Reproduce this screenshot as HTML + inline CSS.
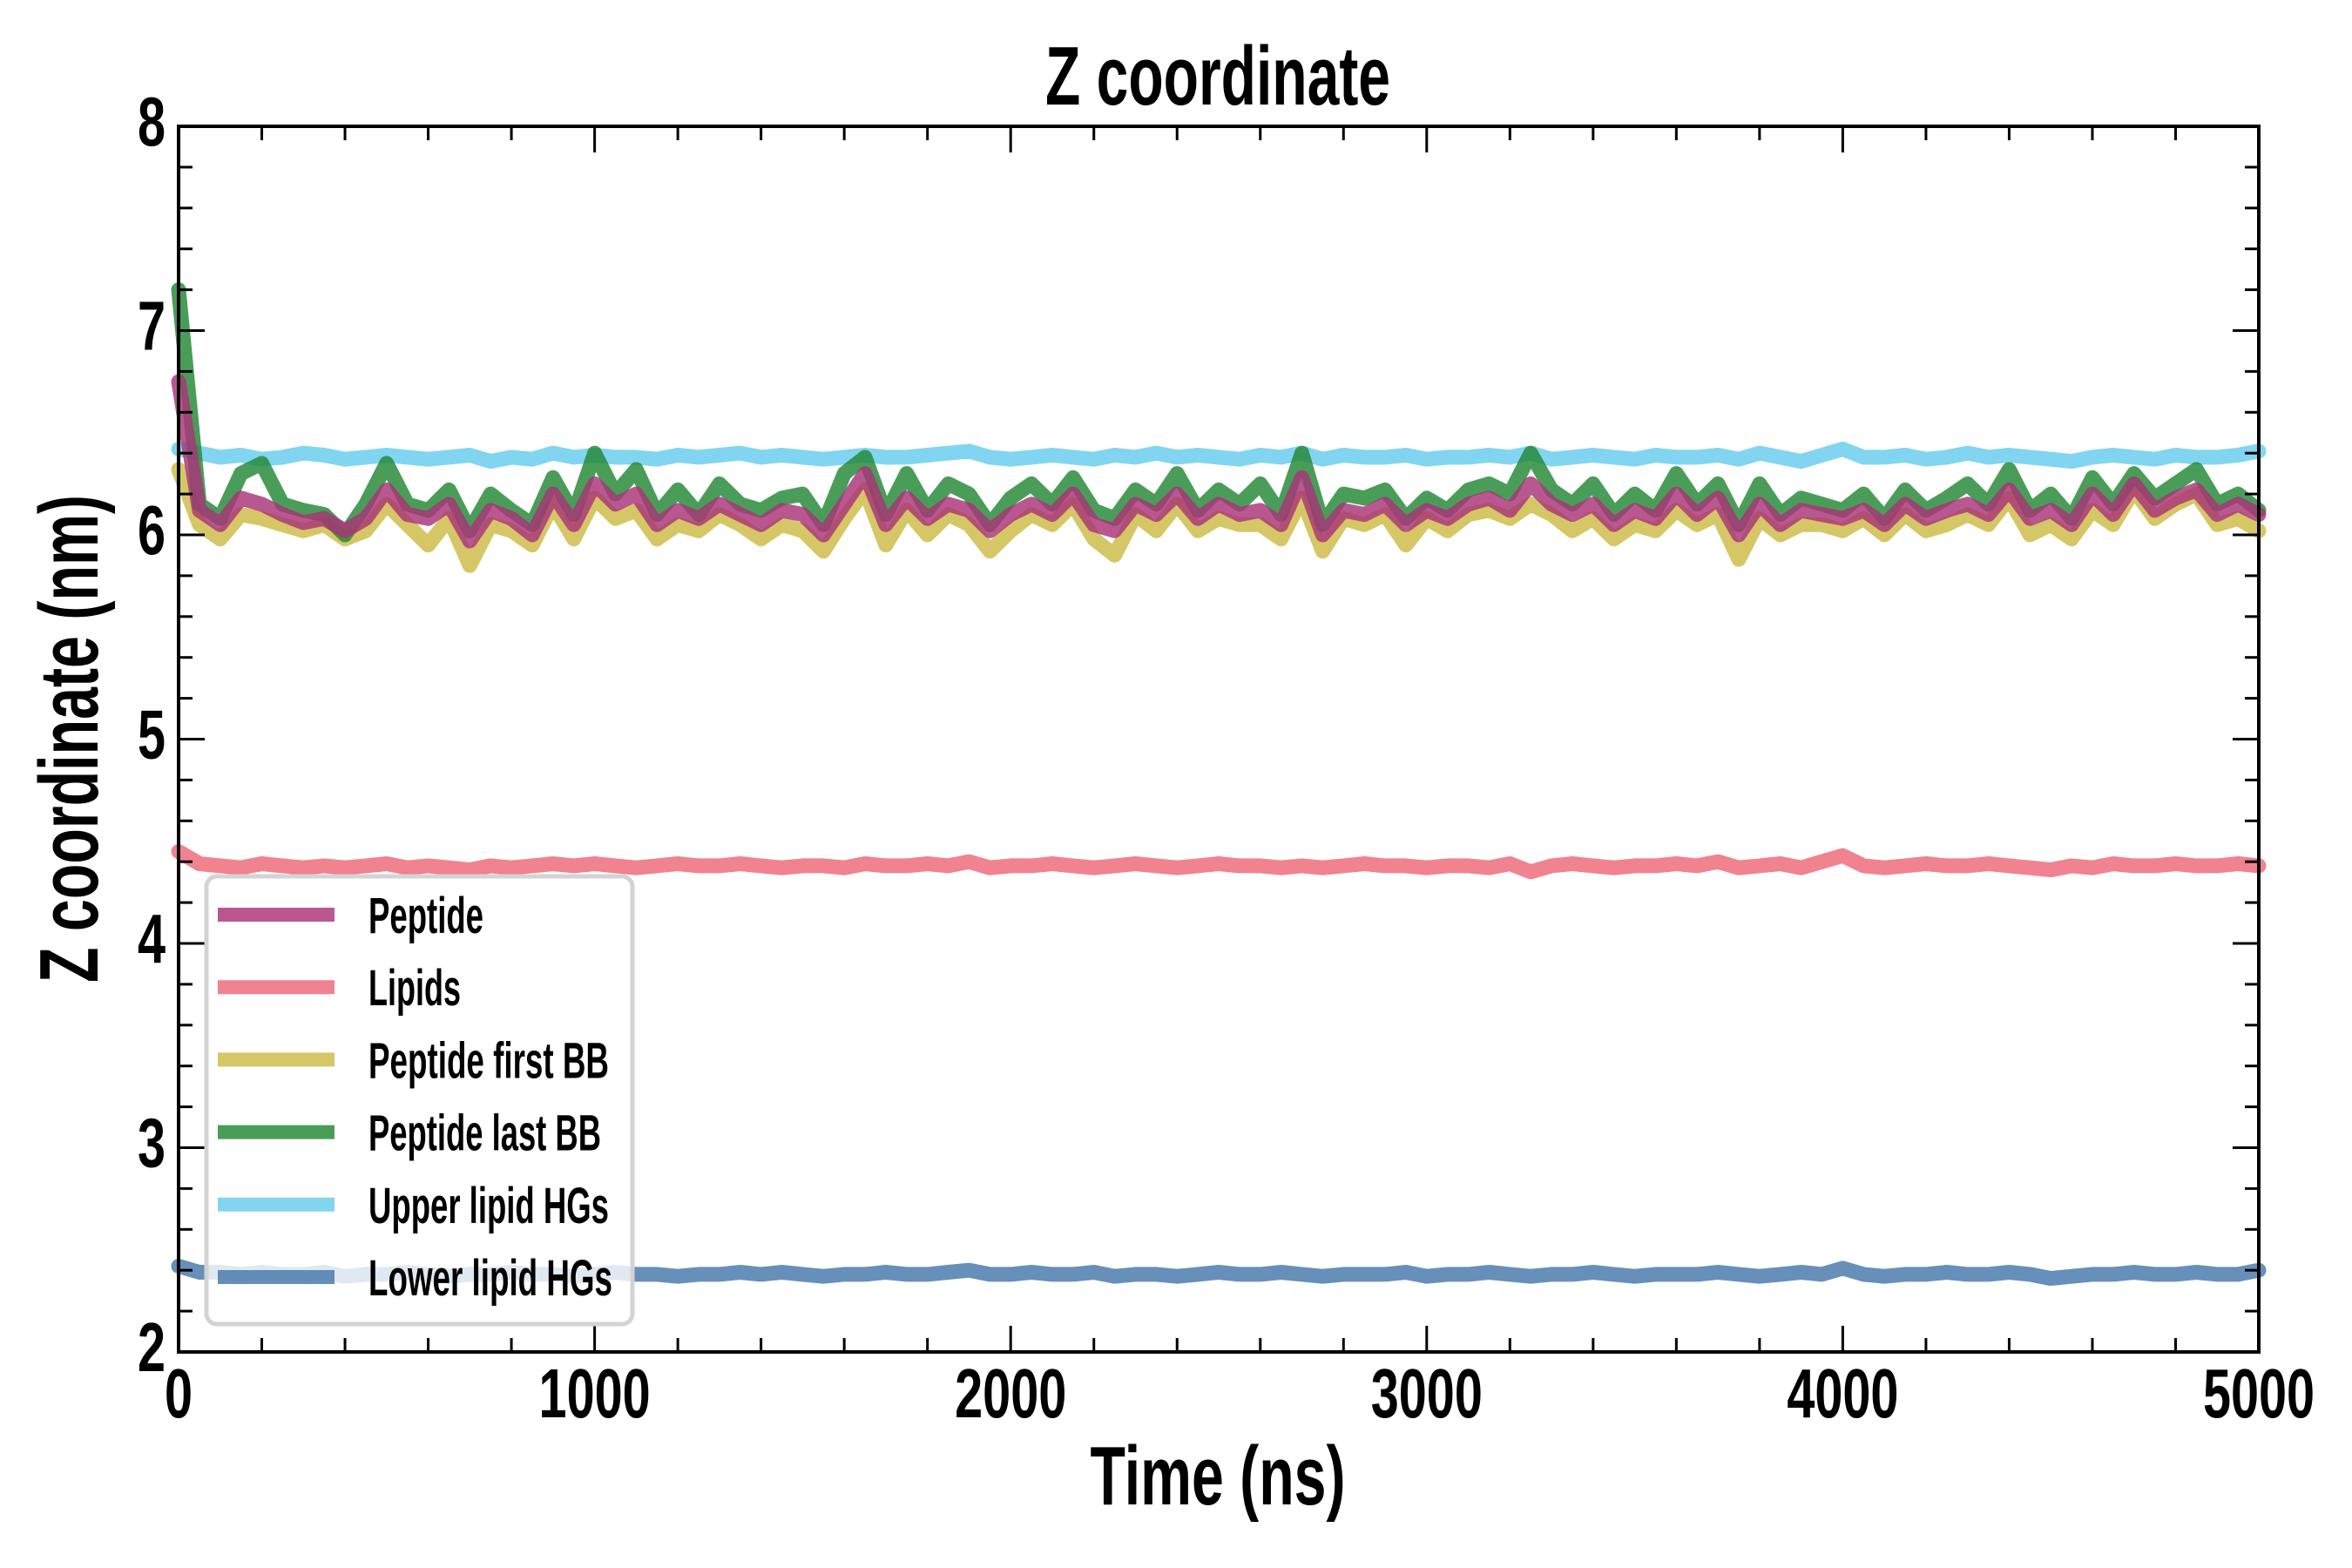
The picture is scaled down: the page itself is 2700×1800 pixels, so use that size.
<!DOCTYPE html>
<html>
<head>
<meta charset="utf-8">
<style>
html,body{margin:0;padding:0;background:#fff;}
svg{display:block;}
text{font-family:"Liberation Sans Narrow","Liberation Sans",sans-serif;font-weight:bold;fill:#000;}
</style>
</head>
<body>
<svg id="chart" width="2700" height="1800" viewBox="0 0 2700 1800" xmlns="http://www.w3.org/2000/svg">
  <rect x="0" y="0" width="2700" height="1800" fill="#fff"/>
  <g id="series"></g>
  <g id="axes"></g>
  <g id="legend"></g>
  <text x="1398" y="120" font-size="96" text-anchor="middle" textLength="396" lengthAdjust="spacingAndGlyphs">Z coordinate</text>
  <text x="1398" y="1727" font-size="96" text-anchor="middle" textLength="293" lengthAdjust="spacingAndGlyphs">Time (ns)</text>
  <text transform="translate(112,848) rotate(-90)" x="0" y="0" font-size="96" text-anchor="middle" textLength="560" lengthAdjust="spacingAndGlyphs">Z coordinate (nm)</text>
</svg>
<script>
const times = [0,50,100,150,200,250,300,350,400,450,500,550,600,650,700,750,800,850,900,950,1000,1050,1100,1150,1200,1250,1300,1350,1400,1450,1500,1550,1600,1650,1700,1750,1800,1850,1900,1950,2000,2050,2100,2150,2200,2250,2300,2350,2400,2450,2500,2550,2600,2650,2700,2750,2800,2850,2900,2950,3000,3050,3100,3150,3200,3250,3300,3350,3400,3450,3500,3550,3600,3650,3700,3750,3800,3850,3900,3950,4000,4050,4100,4150,4200,4250,4300,4350,4400,4450,4500,4550,4600,4650,4700,4750,4800,4850,4900,4950,5000];
const peptide = [6.75,6.12,6.05,6.18,6.15,6.10,6.06,6.08,6.02,6.08,6.22,6.10,6.08,6.15,5.97,6.12,6.08,6.00,6.20,6.05,6.25,6.15,6.20,6.05,6.12,6.08,6.15,6.10,6.05,6.12,6.10,6.00,6.15,6.30,6.05,6.18,6.08,6.15,6.12,6.02,6.10,6.15,6.10,6.20,6.05,6.02,6.15,6.10,6.20,6.08,6.15,6.10,6.12,6.05,6.28,6.00,6.12,6.10,6.15,6.05,6.12,6.08,6.15,6.18,6.12,6.25,6.15,6.10,6.15,6.05,6.12,6.08,6.20,6.10,6.18,6.00,6.15,6.05,6.12,6.10,6.08,6.12,6.05,6.15,6.08,6.12,6.15,6.10,6.22,6.08,6.12,6.05,6.20,6.10,6.25,6.12,6.18,6.22,6.10,6.15,6.10];
const firstBB = [6.32,6.05,5.98,6.10,6.08,6.05,6.02,6.05,5.98,6.02,6.15,6.05,5.95,6.08,5.85,6.05,6.02,5.95,6.15,5.98,6.18,6.08,6.12,5.98,6.05,6.02,6.10,6.05,5.98,6.05,6.02,5.92,6.08,6.22,5.95,6.12,6.00,6.10,6.05,5.92,6.02,6.10,6.05,6.15,5.98,5.90,6.10,6.02,6.15,6.02,6.08,6.05,6.05,5.98,6.18,5.92,6.08,6.05,6.10,5.95,6.08,6.02,6.10,6.12,6.08,6.15,6.10,6.02,6.08,5.98,6.05,6.02,6.12,6.05,6.10,5.88,6.08,6.00,6.05,6.05,6.02,6.08,6.00,6.10,6.02,6.05,6.10,6.05,6.18,6.00,6.05,5.98,6.12,6.05,6.22,6.08,6.15,6.20,6.05,6.08,6.02];
const lastBB = [7.20,6.15,6.08,6.30,6.35,6.15,6.12,6.10,6.00,6.15,6.35,6.15,6.12,6.22,6.02,6.20,6.12,6.05,6.28,6.10,6.40,6.20,6.32,6.10,6.22,6.10,6.25,6.15,6.12,6.18,6.20,6.05,6.30,6.38,6.10,6.30,6.12,6.25,6.20,6.05,6.18,6.25,6.15,6.28,6.12,6.08,6.22,6.15,6.30,6.12,6.22,6.15,6.25,6.10,6.40,6.05,6.20,6.18,6.22,6.08,6.18,6.12,6.22,6.25,6.20,6.40,6.22,6.15,6.25,6.10,6.20,6.12,6.30,6.15,6.25,6.05,6.25,6.10,6.18,6.15,6.12,6.20,6.08,6.22,6.12,6.18,6.25,6.15,6.32,6.12,6.20,6.08,6.28,6.15,6.30,6.18,6.25,6.32,6.15,6.20,6.12];
const upperHG = [6.42,6.40,6.38,6.39,6.37,6.38,6.40,6.39,6.37,6.38,6.39,6.38,6.37,6.38,6.39,6.36,6.38,6.37,6.40,6.38,6.39,6.38,6.38,6.37,6.39,6.38,6.39,6.40,6.38,6.39,6.38,6.37,6.38,6.39,6.38,6.38,6.39,6.40,6.41,6.38,6.37,6.38,6.39,6.38,6.37,6.39,6.38,6.40,6.38,6.39,6.38,6.37,6.39,6.38,6.40,6.37,6.39,6.38,6.38,6.39,6.37,6.38,6.38,6.39,6.38,6.40,6.37,6.38,6.39,6.38,6.37,6.39,6.38,6.38,6.39,6.37,6.40,6.38,6.36,6.39,6.42,6.38,6.38,6.39,6.37,6.38,6.40,6.38,6.39,6.38,6.37,6.36,6.38,6.39,6.38,6.37,6.39,6.38,6.38,6.39,6.41];
const lipids = [4.45,4.39,4.38,4.37,4.39,4.38,4.37,4.38,4.37,4.38,4.39,4.37,4.38,4.37,4.36,4.38,4.37,4.38,4.39,4.38,4.39,4.38,4.37,4.38,4.39,4.38,4.38,4.39,4.38,4.37,4.38,4.38,4.37,4.39,4.38,4.38,4.39,4.38,4.40,4.37,4.38,4.38,4.39,4.38,4.37,4.38,4.39,4.38,4.37,4.38,4.39,4.38,4.38,4.37,4.38,4.37,4.38,4.39,4.38,4.38,4.37,4.38,4.38,4.37,4.39,4.35,4.38,4.39,4.38,4.37,4.38,4.38,4.39,4.38,4.40,4.37,4.38,4.39,4.37,4.40,4.43,4.38,4.37,4.38,4.39,4.38,4.38,4.39,4.38,4.37,4.36,4.38,4.37,4.39,4.38,4.38,4.39,4.38,4.38,4.39,4.38];
const lowerHG = [2.42,2.39,2.39,2.38,2.39,2.38,2.38,2.39,2.37,2.38,2.38,2.39,2.38,2.37,2.38,2.38,2.39,2.38,2.38,2.37,2.38,2.39,2.38,2.38,2.37,2.38,2.38,2.39,2.38,2.39,2.38,2.37,2.38,2.38,2.39,2.38,2.38,2.39,2.40,2.38,2.38,2.39,2.38,2.38,2.39,2.37,2.38,2.38,2.37,2.38,2.39,2.38,2.38,2.39,2.38,2.37,2.38,2.38,2.38,2.39,2.37,2.38,2.38,2.39,2.38,2.37,2.38,2.38,2.39,2.38,2.37,2.38,2.38,2.38,2.39,2.38,2.37,2.38,2.39,2.38,2.41,2.38,2.37,2.38,2.38,2.39,2.38,2.38,2.39,2.38,2.36,2.37,2.38,2.38,2.39,2.38,2.38,2.39,2.38,2.38,2.40];
const seriesNames = ["Peptide","Lipids","Peptide first BB","Peptide last BB","Upper lipid HGs","Lower lipid HGs"];
const xTickLabels = ["0","1000","2000","3000","4000","5000"];
const yTickLabels = ["2","3","4","5","6","7","8"];

const NS = "http://www.w3.org/2000/svg";
const L = 205, R = 2593, T = 145, B = 1552;
const xMin = 0, xMax = 5000, yMin = 2, yMax = 8;
function xs(v){ return L + (v - xMin) / (xMax - xMin) * (R - L); }
function ys(v){ return B - (v - yMin) / (yMax - yMin) * (B - T); }
function mk(tag, attrs, parent){
  const e = document.createElementNS(NS, tag);
  for (const k in attrs) e.setAttribute(k, attrs[k]);
  parent.appendChild(e);
  return e;
}

const seriesLayer = document.getElementById('series');
const colors = {
  "Peptide":"#AA3377","Lipids":"#EE6677","Peptide first BB":"#CCBB44",
  "Peptide last BB":"#228833","Upper lipid HGs":"#66CCEE","Lower lipid HGs":"#4477AA"
};
const dataMap = {
  "Peptide":peptide,"Lipids":lipids,"Peptide first BB":firstBB,
  "Peptide last BB":lastBB,"Upper lipid HGs":upperHG,"Lower lipid HGs":lowerHG
};
const drawOrder = ["Upper lipid HGs","Lower lipid HGs","Lipids","Peptide first BB","Peptide last BB","Peptide"];
const slug = {"Peptide":"peptide","Lipids":"lipids","Peptide first BB":"peptide-first-bb","Peptide last BB":"peptide-last-bb","Upper lipid HGs":"upper-lipid-hgs","Lower lipid HGs":"lower-lipid-hgs"};
drawOrder.forEach(function(name){
  const vals = dataMap[name];
  let d = "";
  for (let i = 0; i < vals.length; i++){
    d += (i ? "L" : "M") + xs(times[i]).toFixed(1) + "," + ys(vals[i]).toFixed(1);
  }
  const p = mk('path', {d:d, fill:"none", stroke:colors[name], "stroke-opacity":"0.82", "stroke-width":"17", "stroke-linejoin":"round", "stroke-linecap":"round"}, seriesLayer);
  
  
});

const axes = document.getElementById('axes');
for (let v = 0; v <= 5000; v += 200){
  const major = v % 1000 === 0;
  const len = major ? 30 : 16;
  const x = xs(v);
  const t1 = mk('line', {x1:x, y1:B, x2:x, y2:B - len, stroke:"#000", "stroke-width":"3"}, axes);
  
  
  const t2 = mk('line', {x1:x, y1:T, x2:x, y2:T + len, stroke:"#000", "stroke-width":"3"}, axes);
  
  
}
for (let k = 0; k <= 30; k++){
  const v = 2 + k * 0.2;
  const major = k % 5 === 0;
  const len = major ? 30 : 16;
  const y = ys(v);
  const t1 = mk('line', {x1:L, y1:y, x2:L + len, y2:y, stroke:"#000", "stroke-width":"3"}, axes);
  
  
  const t2 = mk('line', {x1:R, y1:y, x2:R - len, y2:y, stroke:"#000", "stroke-width":"3"}, axes);
  
  
}
const frame = mk('rect', {x:L, y:T, width:R - L, height:B - T, fill:"none", stroke:"#000", "stroke-width":"4"}, axes);



xTickLabels.forEach(function(lbl){
  const x = xs(parseFloat(lbl));
  const t = mk('text', {transform:"translate(" + x + ",1627) scale(0.72,1)", x:0, y:0, "font-size":"80", "text-anchor":"middle"}, axes);
  t.textContent = lbl;
  
  
});
yTickLabels.forEach(function(lbl){
  const y = ys(parseFloat(lbl));
  const t = mk('text', {transform:"translate(190," + (y + 22) + ") scale(0.72,1)", x:0, y:0, "font-size":"80", "text-anchor":"end"}, axes);
  t.textContent = lbl;
  
  
});

const legend = document.getElementById('legend');
const box = mk('rect', {x:237, y:1006, width:489, height:514, rx:12, ry:12, fill:"#fff", "fill-opacity":"0.8", stroke:"#d3d3d3", "stroke-width":"5"}, legend);


const legendWidths = [132,106,276,267,276,280];
seriesNames.forEach(function(name, i){
  const y = 1050 + i * 83.2;
  const g = mk('g', {}, legend);
  
  
  const sw = mk('line', {x1:250, y1:y, x2:384, y2:y, stroke:colors[name], "stroke-opacity":"0.82", "stroke-width":"16"}, g);
  
  
  const t = mk('text', {x:423, y:y + 21, "font-size":"58", textLength:legendWidths[i], lengthAdjust:"spacingAndGlyphs"}, g);
  t.textContent = name;
  
  
});
</script>
</body>
</html>
